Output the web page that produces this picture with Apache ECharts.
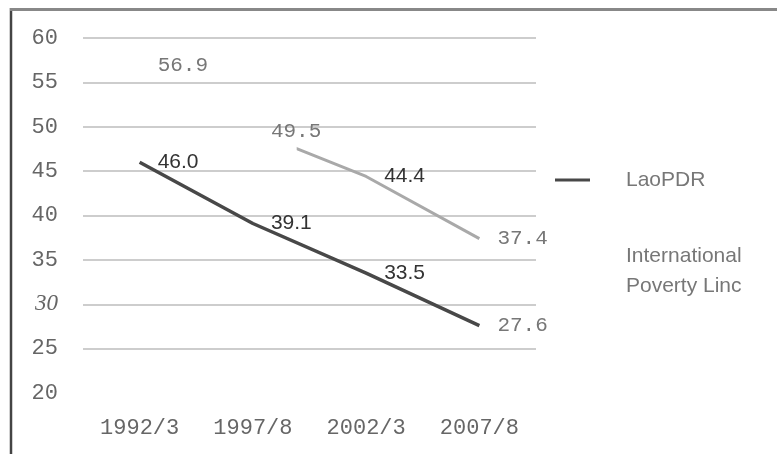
<!DOCTYPE html>
<html>
<head>
<meta charset="utf-8">
<script src="https://cdn.jsdelivr.net/npm/echarts@6/dist/echarts.min.js"></script>
<style>html,body{margin:0;padding:0;background:#fff}#c{width:777px;height:454px}</style>
</head>
<body>
<div id="c"></div>
<script>
const categories = ['1992/3', '1997/8', '2002/3', '2007/8'];
const laoPDR = [46.0, 39.1, 33.5, 27.6];
const povertyLine = [56.9, 49.5, 44.4, 37.4];
const yTicks = [20, 25, 30, 35, 40, 45, 50, 55, 60];
const seriesNames = ['LaoPDR', 'International\nPoverty Linc'];

const monoLabel = { fontFamily: 'Liberation Mono', fontSize: 21, color: '#777' };
const sansLabel = { fontFamily: 'Liberation Sans', fontSize: 21, color: '#333' };

function mk(values, styleFor) {
  return values.map((v, i) => ({ value: v, label: Object.assign({}, styleFor(i)) }));
}

const fadedGray = new echarts.graphic.LinearGradient(0, 0, 1, 0, [
  { offset: 0, color: 'rgba(169,169,169,0)' },
  { offset: 0.462, color: 'rgba(169,169,169,0)' },
  { offset: 0.463, color: '#a9a9a9' },
  { offset: 1, color: '#a9a9a9' }
]);

const chart = echarts.init(document.getElementById('c'));
chart.setOption({
  animation: false,
  backgroundColor: '#fff',
  grid: { left: 83, right: 241, top: 38, bottom: 61, containLabel: false },
  xAxis: {
    type: 'category',
    data: categories,
    boundaryGap: true,
    axisLine: { show: false },
    axisTick: { show: false },
    axisLabel: { fontFamily: 'Liberation Mono', fontSize: 22, color: '#666', margin: 24 }
  },
  yAxis: {
    type: 'value',
    min: yTicks[0], max: yTicks[yTicks.length - 1], interval: 5,
    axisLine: { show: false },
    axisTick: { show: false },
    axisLabel: {
      fontFamily: 'Liberation Mono', fontSize: 22, color: '#666', margin: 25,
      formatter: v => v === 30 ? '{it|' + v + '}' : String(v),
      rich: { it: { fontFamily: 'Liberation Serif', fontStyle: 'italic', fontSize: 23, color: '#666' } }
    },
    splitLine: { show: true, showMinLine: false, lineStyle: { color: '#cdcdcd', width: 2 } }
  },
  legend: {
    orient: 'vertical',
    left: 555, top: 165,
    padding: 0,
    itemGap: 46,
    itemWidth: 35, itemHeight: 3,
    icon: 'rect',
    textStyle: { fontFamily: 'Liberation Sans', fontSize: 21, color: '#777', lineHeight: 30, padding: [0, 0, 0, 31] },
    data: [
      { name: seriesNames[0], itemStyle: { color: '#484848' } },
      { name: seriesNames[1], itemStyle: { opacity: 0 } }
    ]
  },
  series: [
    {
      name: seriesNames[0], type: 'line', data: mk(laoPDR, i => i === 3 ? monoLabel : sansLabel),
      showSymbol: true, symbol: 'circle', symbolSize: 0, z: 3,
      itemStyle: { color: '#484848' },
      lineStyle: { color: '#484848', width: 3.5 },
      label: { show: true, position: 'right', distance: 18, formatter: p => p.value.toFixed(1) }
    },
    {
      name: seriesNames[1], type: 'line', data: mk(povertyLine, i => i === 2 ? sansLabel : monoLabel),
      showSymbol: true, symbol: 'circle', symbolSize: 0, z: 2,
      itemStyle: { color: '#a9a9a9' },
      lineStyle: { color: fadedGray, width: 3 },
      label: { show: true, position: 'right', distance: 18, formatter: p => p.value.toFixed(1) }
    }
  ],
  graphic: [
    { type: 'line', shape: { x1: 11, y1: 8, x2: 11, y2: 454 }, style: { stroke: '#444', lineWidth: 2.5 } },
    { type: 'line', shape: { x1: 10, y1: 9.5, x2: 777, y2: 9.5 }, style: { stroke: '#888', lineWidth: 3 } }
  ]
});
</script>
</body>
</html>
